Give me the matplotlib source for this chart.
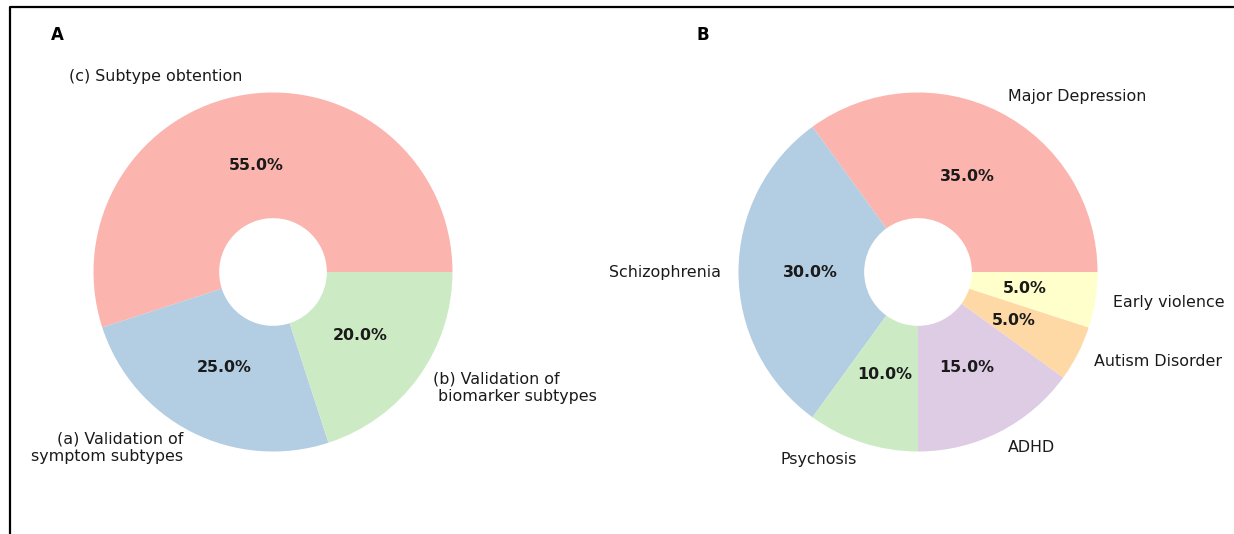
import matplotlib
matplotlib.use("Agg")
import matplotlib.pyplot as plt
from matplotlib.lines import Line2D

# panel A data
stage_labels = ["(c) Subtype obtention", "(a) Validation of\nsymptom subtypes", "(b) Validation of\n biomarker subtypes"]
stage_values = [55, 25, 20]

# panel B data
disorder_labels = ["Major Depression", "Schizophrenia", "Psychosis", "ADHD", "Autism Disorder", "Early violence"]
disorder_values = [35, 30, 10, 15, 5, 5]

colors = plt.cm.Pastel1.colors

W, H = 1234, 534
fig = plt.figure(figsize=(W / 100, H / 100), dpi=100)

r_px = 179.5
lim = 1.2
size = 2 * lim * r_px

def make_ax(cx, cy):
    # cx, cy in pixels from top-left
    return fig.add_axes([(cx - size / 2) / W, (H - cy - size / 2) / H, size / W, size / H])

def draw(ax, values, labels):
    ax.pie(values, labels=labels, colors=colors[:len(values)], autopct="%1.1f%%",
           startangle=0, wedgeprops=dict(width=0.7),
           textprops=dict(fontsize=11.4, color="#1a1a1a"),
           pctdistance=0.6, labeldistance=1.1)
    for t in ax.texts:
        if t.get_text().endswith("%"):
            t.set_fontweight("bold")
    ax.set_xlim(-lim, lim)
    ax.set_ylim(-lim, lim)
    ax.set_aspect("equal")
    ax.axis("off")

axA = make_ax(273, 272)
draw(axA, stage_values, stage_labels)
axB = make_ax(918, 272)
draw(axB, disorder_values, disorder_labels)

fig.text(57 / W, 1 - 35 / H, "A", fontsize=12, fontweight="bold", ha="center", va="center")
fig.text(703 / W, 1 - 35 / H, "B", fontsize=12, fontweight="bold", ha="center", va="center")

# frame lines (top and left only, the rest is cropped)
x0, y0 = 10.5 / W, 1 - 7 / H
fig.add_artist(Line2D([x0, x0, 1.0], [0.0, y0, y0], transform=fig.transFigure,
                      color="black", linewidth=1.6))

fig.savefig("out.png", dpi=100)
